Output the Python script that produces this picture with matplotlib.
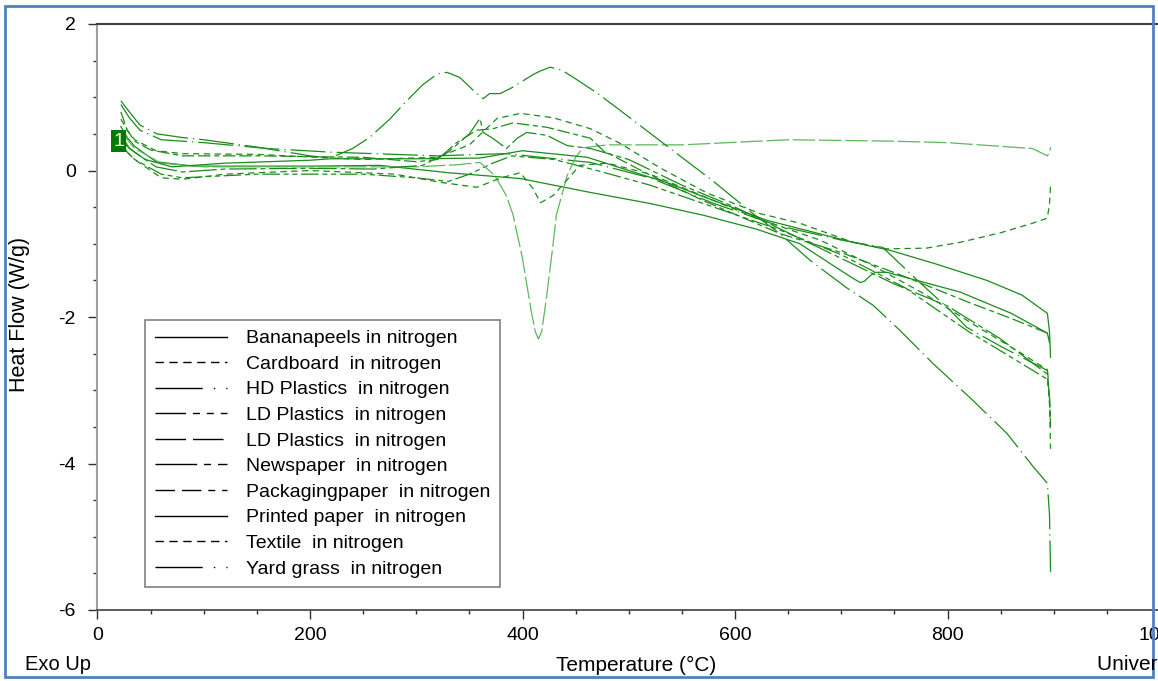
import matplotlib
matplotlib.use('Agg')
import matplotlib.pyplot as plt
from matplotlib.lines import Line2D
from matplotlib.patches import Rectangle
from matplotlib.ticker import MultipleLocator

plt.rcParams['font.family'] = ['Liberation Sans', 'DejaVu Sans']
plt.rcParams['axes.unicode_minus'] = False

# curve data (temperature in C, heat flow in W/g)
banana_t = [22, 28, 35, 55, 90, 150, 200, 266, 330, 398, 464, 520, 570, 620, 661, 699, 712, 718, 722, 727, 732, 743, 812, 860, 894, 896]
banana_hf = [0.6, 0.45, 0.33, 0.12, 0.06, 0.06, 0.06, 0.07, -0.03, -0.11, -0.3, -0.45, -0.61, -0.8, -1.0, -1.36, -1.48, -1.53, -1.51, -1.44, -1.39, -1.39, -1.66, -1.95, -2.22, -2.35]

cardboard_t = [22, 28, 35, 55, 80, 150, 250, 320, 350, 376, 398, 429, 464, 492, 529, 574, 624, 661, 711, 743, 780, 812, 850, 880, 894, 896, 897]
cardboard_hf = [0.7, 0.55, 0.42, 0.27, 0.23, 0.22, 0.15, 0.18, 0.35, 0.71, 0.78, 0.72, 0.57, 0.37, 0.04, -0.31, -0.59, -0.72, -0.98, -1.07, -1.06, -0.98, -0.85, -0.72, -0.65, -0.45, -0.2]

hdpe_t = [22, 30, 40, 60, 100, 160, 220, 280, 320, 360, 385, 464, 520, 580, 640, 700, 739, 774, 802, 818, 850, 894, 896]
hdpe_hf = [0.9, 0.72, 0.55, 0.42, 0.38, 0.3, 0.25, 0.22, 0.2, 0.22, 0.23, 0.11, -0.1, -0.45, -0.75, -0.95, -1.05, -1.53, -1.9, -2.14, -2.4, -2.73, -3.0]

ldpe_a_t = [22, 28, 35, 60, 80, 150, 250, 300, 330, 350, 372, 390, 430, 470, 520, 580, 640, 700, 760, 820, 860, 894, 896, 897]
ldpe_a_hf = [0.4, 0.25, 0.15, -0.05, -0.1, -0.05, -0.05, -0.1, -0.15, -0.05, 0.1, 0.2, 0.15, 0.0, -0.2, -0.5, -0.8, -1.15, -1.6, -2.2, -2.55, -2.85, -3.1, -3.4]

ldpe_b_t = [22, 28, 35, 60, 100, 200, 300, 340, 360, 374, 385, 391, 400, 408, 412, 415, 418, 422, 428, 432, 442, 450, 457, 480, 550, 650, 750, 800, 850, 880, 894, 896, 897]
ldpe_b_hf = [0.55, 0.42, 0.3, 0.1, 0.05, 0.05, 0.05, 0.08, 0.11, -0.07, -0.35, -0.6, -1.2, -1.9, -2.2, -2.3, -2.2, -1.8, -1.1, -0.6, -0.07, 0.18, 0.31, 0.35, 0.35, 0.42, 0.4, 0.38, 0.33, 0.3, 0.2, 0.25, 0.32]

news_t = [22, 28, 35, 55, 80, 120, 200, 260, 306, 330, 350, 360, 363, 372, 385, 395, 404, 423, 442, 464, 500, 550, 600, 650, 700, 750, 800, 850, 894, 896, 897]
news_hf = [0.45, 0.33, 0.25, 0.05, -0.02, 0.02, 0.03, 0.02, 0.07, 0.25, 0.5, 0.71, 0.52, 0.44, 0.3, 0.44, 0.52, 0.48, 0.34, 0.3, 0.15, -0.2, -0.5, -0.85, -1.2, -1.55, -1.85, -2.3, -2.78, -3.1, -3.5]

pack_t = [22, 28, 35, 50, 80, 150, 250, 300, 320, 338, 357, 372, 391, 423, 464, 476, 517, 570, 642, 700, 760, 820, 860, 894, 896]
pack_hf = [0.8, 0.55, 0.4, 0.28, 0.2, 0.2, 0.18, 0.12, 0.15, 0.38, 0.55, 0.57, 0.65, 0.59, 0.44, 0.27, -0.04, -0.41, -0.86, -1.12, -1.45, -1.8, -2.02, -2.22, -2.3]

printed_t = [22, 30, 45, 70, 120, 200, 219, 300, 360, 400, 461, 539, 567, 630, 711, 746, 790, 837, 870, 894, 896, 897]
printed_hf = [0.5, 0.3, 0.15, 0.05, 0.1, 0.14, 0.16, 0.16, 0.17, 0.27, 0.18, -0.18, -0.34, -0.68, -0.98, -1.09, -1.28, -1.5, -1.7, -1.95, -2.2, -2.55]

textile_t = [22, 28, 35, 60, 80, 120, 200, 280, 322, 357, 380, 398, 410, 417, 429, 454, 480, 520, 570, 620, 680, 730, 780, 830, 870, 894, 896, 897]
textile_hf = [0.35, 0.25, 0.15, -0.1, -0.12, -0.05, 0.0, -0.05, -0.16, -0.23, -0.1, -0.03, -0.25, -0.44, -0.34, 0.07, 0.1, -0.05, -0.35, -0.65, -0.95, -1.3, -1.7, -2.15, -2.5, -2.72, -3.2, -3.8]

yard_t = [22, 30, 40, 56, 80, 100, 150, 200, 219, 240, 256, 275, 291, 306, 320, 329, 341, 354, 363, 369, 379, 390, 400, 410, 417, 426, 437, 448, 470, 492, 539, 579, 617, 642, 671, 705, 730, 755, 786, 824, 856, 881, 894, 896, 897]
yard_hf = [0.95, 0.8, 0.62, 0.5, 0.45, 0.42, 0.32, 0.2, 0.17, 0.3, 0.45, 0.7, 0.95, 1.17, 1.32, 1.34, 1.27, 1.09, 0.98, 1.05, 1.05, 1.13, 1.22, 1.31, 1.36, 1.41, 1.37, 1.27, 1.06, 0.82, 0.3, -0.14, -0.59, -0.86, -1.23, -1.6, -1.84, -2.18, -2.63, -3.14, -3.59, -4.05, -4.27, -4.7, -5.48]

labels = ['Bananapeels in nitrogen', 'Cardboard  in nitrogen', 'HD Plastics  in nitrogen',
          'LD Plastics  in nitrogen', 'LD Plastics  in nitrogen', 'Newspaper  in nitrogen',
          'Packagingpaper  in nitrogen', 'Printed paper  in nitrogen', 'Textile  in nitrogen',
          'Yard grass  in nitrogen']

styles = ['-', (0, (5, 3.6)), (0, (28, 4, 1, 4)), (0, (14, 3, 4, 3, 4, 3)), (0, (18, 3)),
          (0, (22, 3, 4, 3)), (0, (10, 3, 10, 3, 4, 3)), '-', (0, (5, 3.6)), (0, (28, 4, 1, 4))]

# legend swatches are drawn a bit differently from the curves
leg_styles = ['-', (0, (6, 4)), (0, (34, 8, 1, 8)), (0, (22, 5, 5, 5, 5, 5)), (0, (22, 5)),
              (0, (30, 5, 5, 5)), (0, (14, 5, 14, 5, 5, 5)), '-', (0, (6, 4)), (0, (34, 8, 1, 8))]

series = [(banana_t, banana_hf), (cardboard_t, cardboard_hf), (hdpe_t, hdpe_hf),
          (ldpe_a_t, ldpe_a_hf), (ldpe_b_t, ldpe_b_hf), (news_t, news_hf),
          (pack_t, pack_hf), (printed_t, printed_hf), (textile_t, textile_hf),
          (yard_t, yard_hf)]

fig = plt.figure(figsize=(11.58, 6.81), dpi=100)
ax = fig.add_axes([97.5 / 1158, 71 / 681, (1160 - 97.5) / 1158, 586 / 681])

green = '#1a8c1a'
for i, (t, hf) in enumerate(series):
    c = '#5cb85c' if i == 4 else green
    ax.plot(t, hf, color=c, lw=0.9, linestyle=styles[i])

ax.set_xlim(0, 1000)
ax.set_ylim(-6, 2)
ax.xaxis.set_major_locator(MultipleLocator(200))
ax.xaxis.set_minor_locator(MultipleLocator(50))
ax.yaxis.set_major_locator(MultipleLocator(2))
ax.yaxis.set_minor_locator(MultipleLocator(0.5))
ax.tick_params(which='major', direction='out', length=6.5, width=1, labelsize=14, color='#303030')
ax.tick_params(which='minor', direction='out', length=3, width=1, color='#303030')
ax.tick_params(axis='y', pad=9)
ax.tick_params(axis='x', pad=6)

ax.spines['right'].set_visible(False)
ax.spines['left'].set_color('#a0a0a0')
ax.spines['left'].set_linewidth(1.5)
ax.spines['top'].set_color('#404040')
ax.spines['top'].set_linewidth(1.5)
ax.spines['bottom'].set_color('#404040')
ax.spines['bottom'].set_linewidth(1.2)

# run marker
ax.text(19.8, 0.40, '1', color='white', fontsize=14, ha='center', va='center',
        bbox=dict(boxstyle='square,pad=0.12', facecolor='#007a00', edgecolor='none'))

handles = [Line2D([0], [0], color='black', lw=1, linestyle=s) for s in leg_styles]
leg = ax.legend(handles, labels, loc='upper left', bbox_to_anchor=(0.0447, 0.4949),
                borderaxespad=0, fontsize=14, handlelength=3.7, handletextpad=1.0,
                labelspacing=0.41, borderpad=0.5, fancybox=False, framealpha=1)
leg.get_frame().set_edgecolor('#808080')
leg.get_frame().set_linewidth(1.2)

fig.text(20 / 1158, 1 - 314 / 681, 'Heat Flow (W/g)', rotation=90, fontsize=15.5, ha='center', va='center')
fig.text(25 / 1158, 1 - 665 / 681, 'Exo Up', fontsize=14.5, ha='left', va='center')
fig.text(636 / 1158, 1 - 665 / 681, 'Temperature (°C)', fontsize=15, ha='center', va='center')
fig.text(1097 / 1158, 1 - 665 / 681, 'Universal V4.5A TA Instruments', fontsize=15, ha='left', va='center')

fig.patches.append(Rectangle((5 / 1158, 4 / 681), 1148 / 1158, 671 / 681, transform=fig.transFigure,
                             fill=False, edgecolor='#4f81bd', lw=2))

fig.savefig('out.png', dpi=100)
